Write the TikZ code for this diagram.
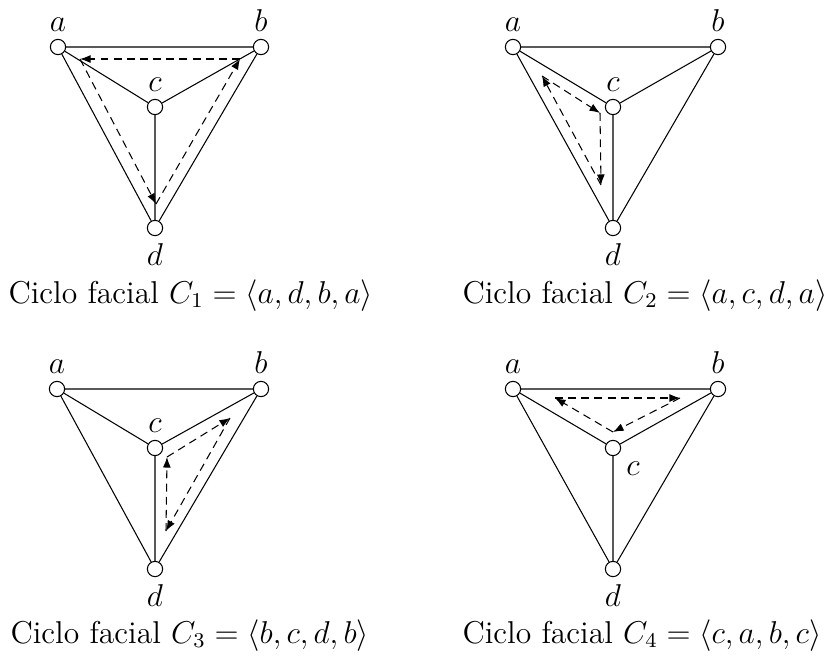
\documentclass[tikz,border=0pt]{standalone}
\usetikzlibrary{arrows.meta}
\begin{document}
\begin{tikzpicture}[x=0.38pt,y=-0.38pt,
  font=\fontsize{12pt}{14.4pt}\selectfont,
  every label/.style={inner sep=2.7pt},
  vtx/.style={circle,draw,fill=white,inner sep=0pt,minimum size=5.8pt,line width=0.4pt},
  edg/.style={line width=0.4pt},
  cyc/.style={dashed,dash pattern=on 3pt off 2pt,line width=0.4pt,-{Latex[length=4pt,width=3pt]}},
  captxt/.style={anchor=base west,inner sep=0pt}]
\useasboundingbox (0,0) rectangle (827,657);
% ---------- Panel 1 ----------
\node[vtx,label={above:$a$}] (a1) at (58,47) {};
\node[vtx,label={above:$b$}] (b1) at (261,47) {};
\node[vtx,label={above:$c$}] (c1) at (155,107) {};
\node[vtx,label={below:$d$}] (d1) at (155,228) {};
\draw[edg] (a1) -- (b1) (a1) -- (c1) (b1) -- (c1) (a1) -- (d1) (b1) -- (d1) (c1) -- (d1);
\coordinate (p1a) at (80,59); \coordinate (p1b) at (240,59); \coordinate (p1d) at (156,204);
\draw[cyc] (p1a) -- (p1d);
\draw[cyc] (p1d) -- (p1b);
\draw[cyc] (p1b) -- (p1a);
\node[captxt] (t1) at (8,303) {Ciclo facial $C_1=\langle a,d,b,a\rangle$};
% ---------- Panel 2 ----------
\node[vtx,label={above:$a$}] (a2) at (513,47) {};
\node[vtx,label={above:$b$}] (b2) at (718,47) {};
\node[vtx,label={above:$c$}] (c2) at (613,107) {};
\node[vtx,label={below:$d$}] (d2) at (613,228) {};
\draw[edg] (a2) -- (b2) (a2) -- (c2) (b2) -- (c2) (a2) -- (d2) (b2) -- (d2) (c2) -- (d2);
\coordinate (p2a) at (542,76); \coordinate (p2c) at (600,113); \coordinate (p2d) at (601,185);
\draw[cyc] (p2a) -- (p2c);
\draw[cyc] (p2c) -- (p2d);
\draw[cyc] (p2d) -- (p2a);
\node[captxt] (t2) at (462,303) {Ciclo facial $C_2=\langle a,c,d,a\rangle$};
% ---------- Panel 3 ----------
\node[vtx,label={above:$a$}] (a3) at (57,389) {};
\node[vtx,label={above:$b$}] (b3) at (261,389) {};
\node[vtx,label={above:$c$}] (c3) at (155,448) {};
\node[vtx,label={below:$d$}] (d3) at (155,569) {};
\draw[edg] (a3) -- (b3) (a3) -- (c3) (b3) -- (c3) (a3) -- (d3) (b3) -- (d3) (c3) -- (d3);
\coordinate (p3c) at (167,457); \coordinate (p3b) at (230,418); \coordinate (p3d) at (166,531);
\draw[cyc] (p3d) -- (p3c);
\draw[cyc] (p3c) -- (p3b);
\draw[cyc] (p3b) -- (p3d);
\node[captxt] (t3) at (10,643) {Ciclo facial $C_3=\langle b,c,d,b\rangle$};
% ---------- Panel 4 ----------
\node[vtx,label={above:$a$}] (a4) at (513,389) {};
\node[vtx,label={above:$b$}] (b4) at (718,389) {};
\node[vtx,label={below right:$c$}] (c4) at (613,448) {};
\node[vtx,label={below:$d$}] (d4) at (613,569) {};
\draw[edg] (a4) -- (b4) (a4) -- (c4) (b4) -- (c4) (a4) -- (d4) (b4) -- (d4) (c4) -- (d4);
\coordinate (p4a) at (555,398); \coordinate (p4b) at (680,398); \coordinate (p4c) at (613,432);
\draw[cyc] (p4c) -- (p4a);
\draw[cyc] (p4a) -- (p4b);
\draw[cyc] (p4b) -- (p4c);
\node[captxt] (t4) at (462,643) {Ciclo facial $C_4=\langle c,a,b,c\rangle$};
\end{tikzpicture}
\end{document}
